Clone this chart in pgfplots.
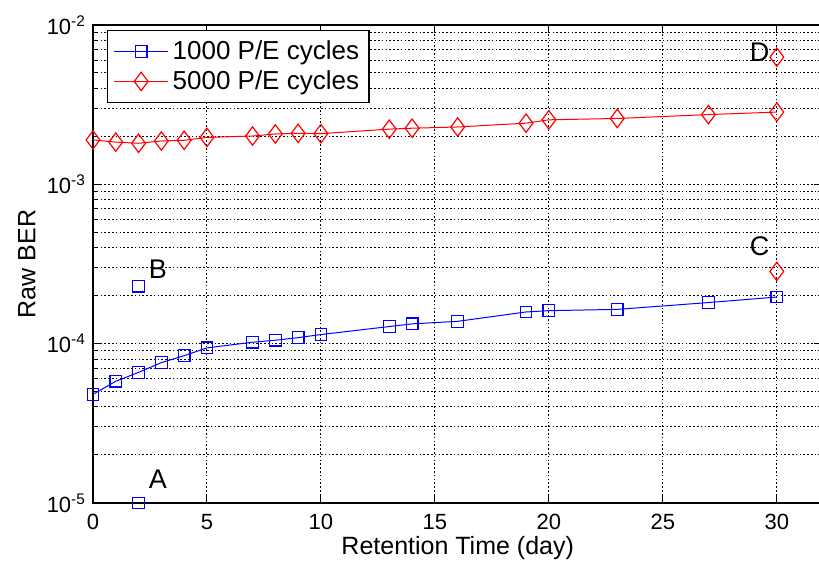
\documentclass[border=0pt]{standalone}
\usepackage{fontspec}
\setmainfont{Liberation Sans}
\usepackage{pgfplots}
\pgfplotsset{compat=1.18}

\begin{document}
\begin{tikzpicture}
\begin{axis}[
  scale only axis,
  width=364.8pt, height=239pt,
  ymode=log,
  xmin=0, xmax=32, ymin=1e-5, ymax=1e-2,
  xtick={0,5,...,30},
  ytick={1e-5,1e-4,1e-3,1e-2},
  yticklabels={10\textsuperscript{-5},10\textsuperscript{-4},10\textsuperscript{-3},10\textsuperscript{-2}},
  minor ytick={2e-5,3e-5,4e-5,5e-5,6e-5,7e-5,8e-5,9e-5,
               2e-4,3e-4,4e-4,5e-4,6e-4,7e-4,8e-4,9e-4,
               2e-3,3e-3,4e-3,5e-3,6e-3,7e-3,8e-3,9e-3},
  grid=both,
  major grid style={black, line width=0.5pt, dash pattern=on 0.8pt off 1.1pt},
  minor grid style={black, line width=0.5pt, dash pattern=on 0.8pt off 1.1pt},
  tick align=inside,
  major tick length=4pt, minor tick length=2.2pt,
  axis line style={line width=0.7pt},
  every tick/.style={black, line width=0.5pt},
  tick label style={font=\fontsize{11}{13}\selectfont},
  xticklabel style={yshift=-2pt},
  /pgf/number format/assume math mode=true,
  xlabel={Retention Time (day)},
  ylabel={Raw BER},
  label style={font=\fontsize{12.5}{15}\selectfont},
  xlabel style={at={(axis description cs:0.5,0)}, anchor=center, yshift=-22.5pt},
  ylabel style={at={(axis description cs:0,0.5)}, anchor=center, yshift=33pt},
  clip=false,
  legend cell align=left,
  legend style={at={(0,1)}, anchor=north west, xshift=7pt, yshift=-2.5pt,
                draw=black, line width=0.7pt, fill=white,
                font=\fontsize{13}{15}\selectfont,
                inner xsep=3pt, inner ysep=3pt,
                nodes={inner xsep=2pt, inner ysep=2pt}},
  legend image code/.code={\draw[mark repeat=2,mark phase=2,#1]
      plot coordinates {(0pt,0pt) (13.5pt,0pt) (27pt,0pt)};},
]
\addplot[blue, line width=0.5pt, mark=square, mark size=2.9pt,
         mark options={line width=0.6pt}] coordinates {
  (0,4.8e-5) (1,5.8e-5) (2,6.6e-5) (3,7.6e-5) (4,8.4e-5) (5,9.4e-5)
  (7,1.02e-4) (8,1.05e-4) (9,1.09e-4) (10,1.14e-4) (13,1.28e-4)
  (14,1.33e-4) (16,1.38e-4) (19,1.58e-4) (20,1.61e-4) (23,1.64e-4)
  (27,1.81e-4) (30,1.96e-4)};
\addlegendentry{1000 P/E cycles}
\addplot[red, line width=0.5pt, mark=diamond, mark size=4.6pt,
         mark options={line width=0.6pt}] coordinates {
  (0,1.90e-3) (1,1.84e-3) (2,1.81e-3) (3,1.87e-3) (4,1.89e-3) (5,1.97e-3)
  (7,2.01e-3) (8,2.07e-3) (9,2.09e-3) (10,2.08e-3) (13,2.22e-3)
  (14,2.25e-3) (16,2.29e-3) (19,2.42e-3) (20,2.54e-3) (23,2.59e-3)
  (27,2.74e-3) (30,2.84e-3)};
\addlegendentry{5000 P/E cycles}
\addplot[blue, only marks, mark=square, mark size=2.9pt,
         mark options={line width=0.6pt}, forget plot] coordinates {
  (2,2.29e-4) (2,1e-5)};
\addplot[red, only marks, mark=diamond, mark size=4.6pt,
         mark options={line width=0.6pt}, forget plot] coordinates {
  (30,2.84e-4) (30,6.28e-3)};
\node[font=\fontsize{13.5}{15}\selectfont] at (axis cs:2.85,2.91e-4) {B};
\node[font=\fontsize{13.5}{15}\selectfont] at (axis cs:2.85,1.4e-5) {A};
\node[font=\fontsize{13.5}{15}\selectfont] at (axis cs:29.25,4.11e-4) {C};
\node[font=\fontsize{13.5}{15}\selectfont] at (axis cs:29.25,6.7e-3) {D};
\end{axis}
\pgfresetboundingbox
\path[use as bounding box] ([xshift=-46.5pt,yshift=-29.5pt]current axis.south west)
  rectangle ([xshift=-1.7pt,yshift=12.5pt]current axis.north east);
\end{tikzpicture}
\end{document}
